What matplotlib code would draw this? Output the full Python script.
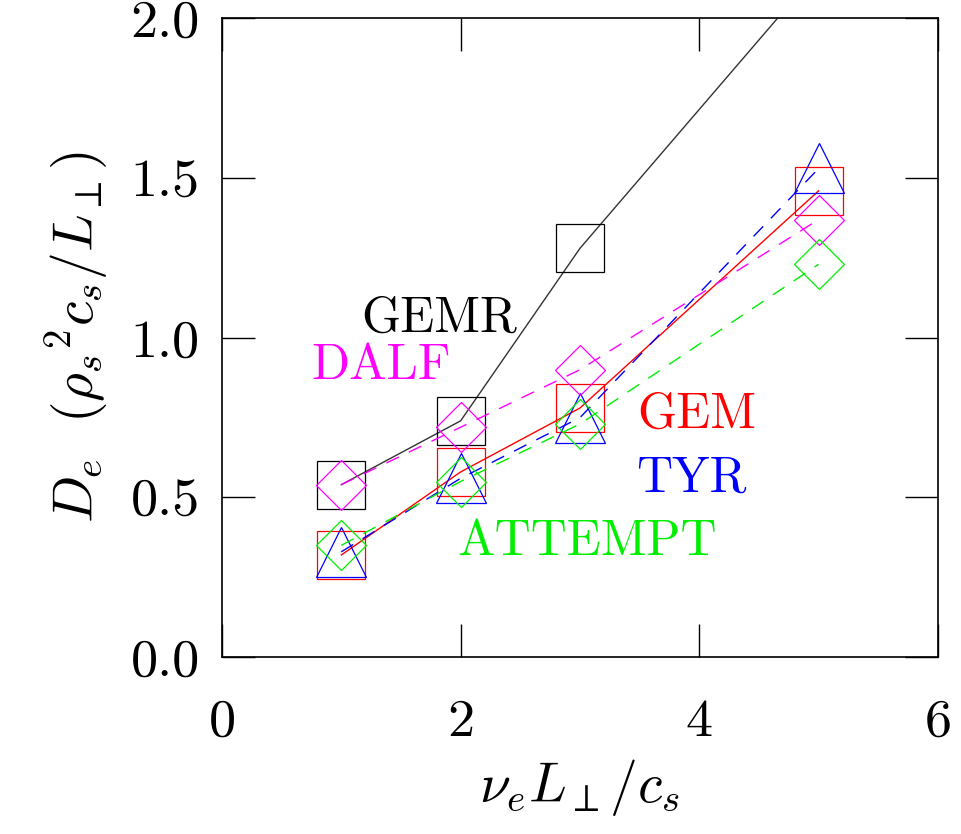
import matplotlib
matplotlib.use('Agg')
import matplotlib.pyplot as plt

# collision rate values and diffusion results of the codes
x = [1, 2, 3, 5]
gemr = [0.54, 0.74, 1.28, 2.15]
dalf = [0.54, 0.72, 0.90, 1.37]
gem = [0.32, 0.58, 0.78, 1.46]
tyr = [0.33, 0.56, 0.75, 1.53]
attempt = [0.35, 0.55, 0.73, 1.23]

xticks = [0, 2, 4, 6]
yticks = [0.0, 0.5, 1.0, 1.5, 2.0]

plt.rcParams['font.family'] = 'serif'
plt.rcParams['font.serif'] = ['cmr10']
plt.rcParams['mathtext.fontset'] = 'cm'
plt.rcParams['axes.formatter.use_mathtext'] = True

fig = plt.figure(figsize=(9.61, 8.34), dpi=100)
ax = fig.add_axes([0.231, 0.212, 0.745, 0.766])

lw = 1.0
ax.plot(x, gemr, color='#333333', lw=lw, marker='s', ms=34.5, mfc='none', mec='k', mew=0.9)
ax.plot(x, gem, color='red', lw=lw, marker='s', ms=34.5, mfc='none', mec='red', mew=0.9)
ax.plot(x, tyr, color='blue', lw=lw, dashes=(10, 8), marker='^', ms=36, mfc='none', mec='blue', mew=0.9)
ax.plot(x, dalf, color='magenta', lw=lw, dashes=(10, 8), marker='D', ms=25.5, mfc='none', mec='magenta', mew=0.9)
ax.plot(x, attempt, color='#00ee00', lw=lw, dashes=(10, 8), marker='D', ms=25.5, mfc='none', mec='#00ee00', mew=0.9)

fs = 36
ax.text(1.82, 1.06, 'GEMR', color='k', fontsize=fs, ha='center', va='center')
ax.text(1.33, 0.91, 'DALF', color='magenta', fontsize=fs, ha='center', va='center')
ax.text(3.98, 0.76, 'GEM', color='red', fontsize=fs, ha='center', va='center')
ax.text(3.93, 0.56, 'TYR', color='blue', fontsize=fs, ha='center', va='center')
ax.text(3.06, 0.36, 'ATTEMPT', color='#00ee00', fontsize=fs, ha='center', va='center')

ax.set_xlim(0, 6)
ax.set_ylim(0, 2)
ax.set_xticks(xticks)
ax.set_yticks(yticks)
ax.set_xticklabels([str(t) for t in xticks])
ax.set_yticklabels(['%.1f' % t for t in yticks])
ax.tick_params(direction='in', length=24, width=1, top=True, right=True, labelsize=39)
ax.tick_params(axis='x', pad=30)
ax.tick_params(axis='y', pad=16)
for s in ax.spines.values():
    s.set_linewidth(1.2)

ax.set_xlabel(r'$\nu_e L_\perp / c_s$', fontsize=40, labelpad=8)
ax.set_ylabel(r'$D_e\ \ (\rho_s{}^2 c_s / L_\perp)$', fontsize=40, labelpad=14)

fig.savefig('out.png', dpi=100)
